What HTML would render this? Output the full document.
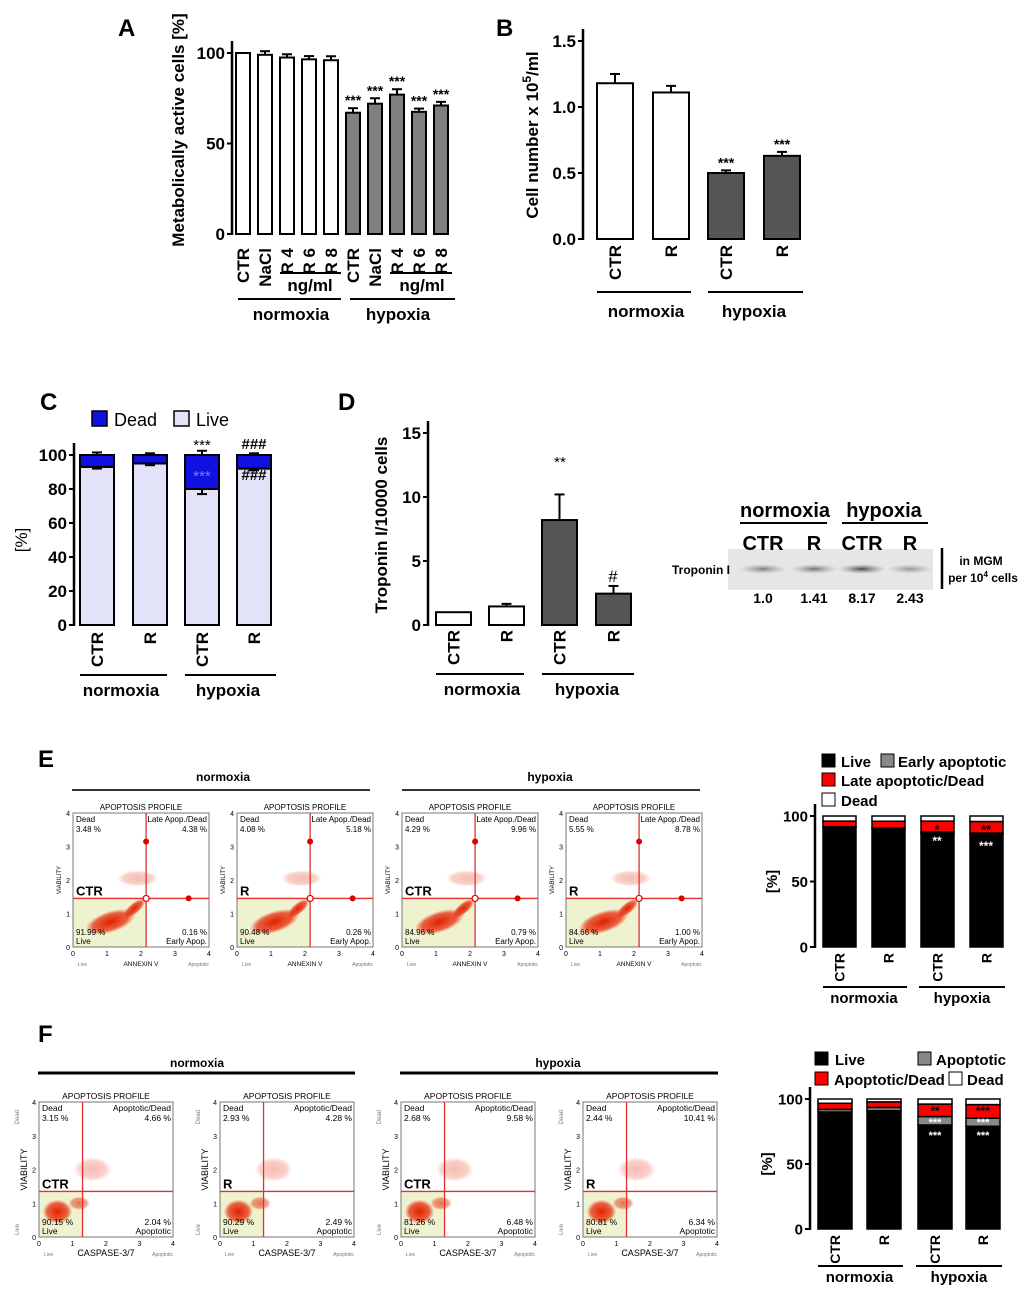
<!DOCTYPE html>
<html><head><meta charset="utf-8">
<style>
html,body{margin:0;padding:0;background:#fff;}
svg{display:block;font-family:"Liberation Sans",Arial,sans-serif;}
</style></head>
<body>
<svg id="fig" width="1020" height="1292" viewBox="0 0 1020 1292" xmlns="http://www.w3.org/2000/svg">
<defs>
<radialGradient id="blob" cx="50%" cy="50%" r="50%">
<stop offset="0%" stop-color="#e02000" stop-opacity="1"/>
<stop offset="70%" stop-color="#e83010" stop-opacity="0.75"/>
<stop offset="100%" stop-color="#f04020" stop-opacity="0"/>
</radialGradient>
<radialGradient id="band" cx="50%" cy="50%" r="50%">
<stop offset="0%" stop-color="#333" stop-opacity="1"/>
<stop offset="100%" stop-color="#888" stop-opacity="0"/>
</radialGradient>
</defs>
</svg>
<script>
// ---------- data ----------
const aCategories = ['CTR','NaCl','R 4','R 6','R 8','CTR','NaCl','R 4','R 6','R 8'];
const aValues = [100, 99, 97.5, 96.5, 96, 67, 72, 77, 67.5, 71];
const aErrors = [0, 2, 1.8, 1.8, 2.2, 2.5, 3, 3, 1.8, 2];
const aTicks = [0, 50, 100];

const bCategories = ['CTR','R','CTR','R'];
const bValues = [1.18, 1.11, 0.50, 0.63];
const bErrors = [0.07, 0.05, 0.02, 0.03];
const bTicks = [0.0, 0.5, 1.0, 1.5];

const cCategories = ['CTR','R','CTR','R'];
const cLive = [93, 95, 80, 92];
const cDead = [7, 5, 20, 8];
const cLiveErr = [1, 1, 3, 1];
const cDeadErr = [1.5, 1, 2.5, 1];
const cTicks = [0, 20, 40, 60, 80, 100];

const dCategories = ['CTR','R','CTR','R'];
const dValues = [1.0, 1.45, 8.2, 2.45];
const dErrors = [0, 0.2, 2.0, 0.6];
const dTicks = [0, 5, 10, 15];

const blotValues = ['1.0','1.41','8.17','2.43'];
const blotIntensity = [0.6, 0.65, 0.9, 0.45];

const eCategories = ['CTR','R','CTR','R'];
const eLive = [91.5, 90.5, 87, 86];
const eEarly = [0.2, 0.3, 0.8, 1.0];
const eLate = [4.4, 5.2, 8.3, 8.8];
const eDead = [3.9, 4.0, 3.9, 4.2];
const eTicks = [0, 50, 100];
const ePlotDead = ['3.48 %','4.08 %','4.29 %','5.55 %'];
const ePlotLate = ['4.38 %','5.18 %','9.96 %','8.78 %'];
const ePlotLive = ['91.99 %','90.48 %','84.96 %','84.66 %'];
const ePlotEarly = ['0.16 %','0.26 %','0.79 %','1.00 %'];

const fCategories = ['CTR','R','CTR','R'];
const fLive = [90, 91, 80, 79];
const fApo = [2.0, 2.5, 6.5, 6.3];
const fApoDead = [4.7, 4.3, 9.6, 10.4];
const fDead = [3.3, 2.2, 3.9, 4.3];
const fTicks = [0, 50, 100];
const fPlotDead = ['3.15 %','2.93 %','2.68 %','2.44 %'];
const fPlotApoDead = ['4.66 %','4.28 %','9.58 %','10.41 %'];
const fPlotLive = ['90.15 %','90.29 %','81.26 %','80.81 %'];
const fPlotApo = ['2.04 %','2.49 %','6.48 %','6.34 %'];

// ---------- helpers ----------
const NS = 'http://www.w3.org/2000/svg';
const svg = document.getElementById('fig');
function mk(tag, attrs, name, parent) {
  const el = document.createElementNS(NS, tag);
  for (const k in attrs) el.setAttribute(k, attrs[k]);
  
  
  (parent || svg).appendChild(el);
  return el;
}
function txt(x, y, s, size, name, opts) {
  opts = opts || {};
  const a = {x: x, y: y, 'font-size': size, 'font-weight': opts.weight || 'bold',
    'text-anchor': opts.anchor || 'start', fill: opts.fill || '#000'};
  if (opts.rot) a.transform = 'rotate(' + opts.rot + ' ' + x + ' ' + y + ')';
  const t = mk('text', a, name, opts.parent);
  t.textContent = s;
  return t;
}
function line(x1, y1, x2, y2, w, name, color) {
  return mk('line', {x1: x1, y1: y1, x2: x2, y2: y2, stroke: color || '#000', 'stroke-width': w}, name);
}
function rect(x, y, w, h, fill, name, sw) {
  return mk('rect', {x: x, y: y, width: w, height: h, fill: fill, stroke: '#000', 'stroke-width': sw === undefined ? 2 : sw}, name);
}
function scale(v, min, max, yb, yt) { return yb - (v - min) / (max - min) * (yb - yt); }
function yAxis(ax, yb, yt, min, max, ticks, fmt, fs, name) {
  line(ax, yt - 12, ax, yb + 1, 2.5, name + '-line');
  ticks.forEach(t => {
    const y = scale(t, min, max, yb, yt);
    line(ax - 5, y, ax, y, 2, name + '-tick');
    txt(ax - 7, y + fs * 0.36, fmt(t), fs, name + '-tick-label', {anchor: 'end'});
  });
}
function errBar(cx, yTop, yErr, name) {
  line(cx, yTop, cx, yErr, 2, name);
  line(cx - 5, yErr, cx + 5, yErr, 2, name + '-cap');
}

// ---------- Panel A ----------
txt(118, 36, 'A', 24, 'panel-label-a');
(function () {
  const ax = 232, yb = 234, yt = 53, min = 0, max = 100;
  const x0 = 236, pitch = 22, bw = 14;
  yAxis(ax, yb, yt, min, max, aTicks, t => String(t), 17, 'a-y-axis');
  txt(184, 130, 'Metabolically active cells [%]', 17, 'a-y-axis-title', {anchor: 'middle', rot: -90});
  aValues.forEach((v, i) => {
    const x = x0 + i * pitch, y = scale(v, min, max, yb, yt);
    const fill = i < 5 ? '#fff' : '#808080';
    if (aErrors[i] > 0) errBar(x + bw / 2, y, scale(v + aErrors[i], min, max, yb, yt), 'a-error-bar');
    rect(x, y, bw, yb - y, fill, 'a-bar-' + i);
    if (i >= 5) txt(x + bw / 2, scale(v + aErrors[i], min, max, yb, yt) - 3, '***', 14, 'a-significance', {anchor: 'middle'});
    txt(x + bw / 2 + 6, 248, aCategories[i], 17, 'a-category-label', {anchor: 'end', rot: -90});
  });
  line(280, 273, 341, 273, 2, 'a-ngml-line-normoxia');
  line(390, 273, 452, 273, 2, 'a-ngml-line-hypoxia');
  txt(310, 291, 'ng/ml', 17, 'a-ngml-label', {anchor: 'middle'});
  txt(422, 291, 'ng/ml', 17, 'a-ngml-label', {anchor: 'middle'});
  line(238, 299, 341, 299, 2, 'a-normoxia-line');
  line(350, 299, 455, 299, 2, 'a-hypoxia-line');
  txt(291, 320, 'normoxia', 17, 'a-normoxia-label', {anchor: 'middle'});
  txt(398, 320, 'hypoxia', 17, 'a-hypoxia-label', {anchor: 'middle'});
})();

// ---------- Panel B ----------
txt(496, 36, 'B', 24, 'panel-label-b');
(function () {
  const ax = 583, yb = 239, yt = 41, min = 0, max = 1.5;
  const xs = [597, 653, 708, 764], bw = 36;
  yAxis(ax, yb, yt, min, max, bTicks, t => t.toFixed(1), 17, 'b-y-axis');
  const tt = txt(538, 135, 'Cell number x 10', 17, 'b-y-axis-title', {anchor: 'middle', rot: -90});
  const sup = document.createElementNS(NS, 'tspan');
  sup.setAttribute('dy', '-7'); sup.setAttribute('font-size', '12'); sup.textContent = '5';
  tt.appendChild(sup);
  const rest = document.createElementNS(NS, 'tspan');
  rest.setAttribute('dy', '7'); rest.textContent = '/ml';
  tt.appendChild(rest);
  bValues.forEach((v, i) => {
    const x = xs[i], y = scale(v, min, max, yb, yt);
    const ey = scale(v + bErrors[i], min, max, yb, yt);
    errBar(x + bw / 2, y, ey, 'b-error-bar');
    rect(x, y, bw, yb - y, i < 2 ? '#fff' : '#555', 'b-bar-' + i);
    if (i >= 2) txt(x + bw / 2, ey - 3, '***', 14, 'b-significance', {anchor: 'middle'});
    txt(x + bw / 2 + 6, 245, bCategories[i], 17, 'b-category-label', {anchor: 'end', rot: -90});
  });
  line(597, 292, 691, 292, 2, 'b-normoxia-line');
  line(708, 292, 803, 292, 2, 'b-hypoxia-line');
  txt(646, 317, 'normoxia', 17, 'b-normoxia-label', {anchor: 'middle'});
  txt(754, 317, 'hypoxia', 17, 'b-hypoxia-label', {anchor: 'middle'});
})();

// ---------- Panel C ----------
txt(40, 410, 'C', 24, 'panel-label-c');
(function () {
  const ax = 74, yb = 625, yt = 455, min = 0, max = 100;
  const xs = [80, 133, 185, 237], bw = 34;
  rect(92, 411, 15, 15, '#1010e0', 'c-legend-dead-swatch', 1.5);
  txt(114, 426, 'Dead', 18, 'c-legend-dead-label', {weight: 'normal'});
  rect(174, 411, 15, 15, '#e2e2f8', 'c-legend-live-swatch', 1.5);
  txt(196, 426, 'Live', 18, 'c-legend-live-label', {weight: 'normal'});
  yAxis(ax, yb, yt, min, max, cTicks, t => String(t), 17, 'c-y-axis');
  txt(27, 540, '[%]', 17, 'c-y-axis-title', {anchor: 'middle', rot: -90, weight: 'normal'});
  cLive.forEach((v, i) => {
    const x = xs[i];
    const yl = scale(v, min, max, yb, yt);
    const total = v + cDead[i];
    const yd = scale(total, min, max, yb, yt);
    errBar(x + bw / 2, yd, scale(total + cDeadErr[i], min, max, yb, yt), 'c-error-bar-dead');
    rect(x, yl, bw, yb - yl, '#e2e2f8', 'c-bar-live-' + i);
    rect(x, yd, bw, yl - yd, '#1010e0', 'c-bar-dead-' + i);
    errBar(x + bw / 2, yl, scale(v - cLiveErr[i], min, max, yb, yt), 'c-error-bar-live');
    txt(x + bw / 2 + 6, 632, cCategories[i], 17, 'c-category-label', {anchor: 'end', rot: -90});
  });
  txt(202, 450, '***', 15, 'c-significance', {anchor: 'middle', weight: 'normal'});
  txt(202, 481, '***', 15, 'c-significance-inner', {anchor: 'middle', weight: 'normal', fill: '#7080ff'});
  txt(254, 449, '###', 15, 'c-significance-hash', {anchor: 'middle'});
  txt(254, 480, '###', 15, 'c-significance-hash-inner', {anchor: 'middle'});
  line(80, 675, 167, 675, 2, 'c-normoxia-line');
  line(185, 675, 276, 675, 2, 'c-hypoxia-line');
  txt(121, 696, 'normoxia', 17, 'c-normoxia-label', {anchor: 'middle'});
  txt(228, 696, 'hypoxia', 17, 'c-hypoxia-label', {anchor: 'middle'});
})();

// ---------- Panel D ----------
txt(338, 410, 'D', 24, 'panel-label-d');
(function () {
  const ax = 428, yb = 625, yt = 433, min = 0, max = 15;
  const xs = [436, 489, 542, 596], bw = 35;
  yAxis(ax, yb, yt, min, max, dTicks, t => String(t), 17, 'd-y-axis');
  txt(387, 525, 'Troponin I/10000 cells', 17, 'd-y-axis-title', {anchor: 'middle', rot: -90});
  dValues.forEach((v, i) => {
    const x = xs[i], y = scale(v, min, max, yb, yt);
    const ey = scale(v + dErrors[i], min, max, yb, yt);
    if (dErrors[i] > 0) errBar(x + bw / 2, y, ey, 'd-error-bar');
    rect(x, y, bw, yb - y, i < 2 ? '#fff' : '#555', 'd-bar-' + i);
    txt(x + bw / 2 + 6, 630, dCategories[i], 17, 'd-category-label', {anchor: 'end', rot: -90});
  });
  txt(560, 467, '**', 15, 'd-significance', {anchor: 'middle', weight: 'normal'});
  txt(613, 582, '#', 17, 'd-significance-hash', {anchor: 'middle', weight: 'normal'});
  line(436, 674, 524, 674, 2, 'd-normoxia-line');
  line(542, 674, 634, 674, 2, 'd-hypoxia-line');
  txt(482, 695, 'normoxia', 17, 'd-normoxia-label', {anchor: 'middle'});
  txt(587, 695, 'hypoxia', 17, 'd-hypoxia-label', {anchor: 'middle'});
})();

// ---------- Western blot ----------
(function () {
  txt(785, 517, 'normoxia', 20, 'blot-normoxia-label', {anchor: 'middle'});
  txt(884, 517, 'hypoxia', 20, 'blot-hypoxia-label', {anchor: 'middle'});
  line(740, 523, 827, 523, 2, 'blot-normoxia-line');
  line(842, 523, 928, 523, 2, 'blot-hypoxia-line');
  const cx = [763, 814, 862, 910], lab = ['CTR', 'R', 'CTR', 'R'];
  mk('rect', {x: 728, y: 549, width: 205, height: 41, fill: '#e6e6e6'}, 'blot-membrane');
  blotIntensity.forEach((k, i) => {
    mk('ellipse', {cx: cx[i], cy: 569, rx: 24, ry: 5, fill: 'url(#band)', opacity: k}, 'blot-band');
  });
  lab.forEach((l, i) => txt(cx[i], 550, l, 20, 'blot-lane-label', {anchor: 'middle'}));
  txt(672, 574, 'Troponin I', 12, 'blot-protein-label');
  line(942, 548, 942, 589, 2.5, 'blot-bracket');
  txt(981, 565, 'in MGM', 12, 'blot-unit-label', {anchor: 'middle'});
  const u = txt(983, 582, 'per 10', 12, 'blot-unit-label-2', {anchor: 'middle'});
  const s = document.createElementNS(NS, 'tspan'); s.setAttribute('dy', '-5'); s.setAttribute('font-size', '8'); s.textContent = '4';
  u.appendChild(s);
  const r = document.createElementNS(NS, 'tspan'); r.setAttribute('dy', '5'); r.textContent = ' cells';
  u.appendChild(r);
  blotValues.forEach((v, i) => txt(cx[i], 603, v, 14, 'blot-value', {anchor: 'middle'}));
})();

// ---------- Flow plots ----------
function flowPlot(x, y, w, h, qx, qy, cond, tl, tr, bl, br, labels, prefix, variant) {
  mk('rect', {x: x, y: y + h * (1 - qy / 4), width: w * qx / 4, height: h * qy / 4, fill: '#eef2cf'}, prefix + '-live-region');
  const px = v => x + v / 4 * w, py = v => y + h - v / 4 * h;
  if (variant === 'annexin') {
    mk('ellipse', {cx: px(1.1), cy: py(0.75), rx: w * 0.19, ry: h * 0.08, fill: 'url(#blob)', transform: 'rotate(-18 ' + px(1.1) + ' ' + py(0.75) + ')'}, prefix + '-cell-cloud');
    mk('ellipse', {cx: px(1.8), cy: py(1.15), rx: w * 0.1, ry: h * 0.04, fill: 'url(#blob)', transform: 'rotate(-40 ' + px(1.8) + ' ' + py(1.15) + ')'}, prefix + '-cell-cloud');
    mk('ellipse', {cx: px(1.9), cy: py(2.05), rx: w * 0.15, ry: h * 0.06, fill: 'url(#blob)', opacity: 0.3}, prefix + '-cell-cloud-sparse');
  } else {
    mk('ellipse', {cx: px(0.55), cy: py(0.75), rx: w * 0.11, ry: h * 0.09, fill: 'url(#blob)'}, prefix + '-cell-cloud');
    mk('ellipse', {cx: px(1.2), cy: py(1.0), rx: w * 0.08, ry: h * 0.05, fill: 'url(#blob)', opacity: 0.6}, prefix + '-cell-cloud');
    mk('ellipse', {cx: px(1.6), cy: py(2.0), rx: w * 0.14, ry: h * 0.09, fill: 'url(#blob)', opacity: 0.3}, prefix + '-cell-cloud-sparse');
  }
  mk('rect', {x: x, y: y, width: w, height: h, fill: 'none', stroke: '#777', 'stroke-width': 1}, prefix + '-frame');
  line(px(qx), y, px(qx), y + h, 1.3, prefix + '-quadrant-vertical', '#e03030');
  line(x, py(qy), x + w, py(qy), 1.3, prefix + '-quadrant-horizontal', '#e03030');
  if (variant === 'annexin') {
    mk('circle', {cx: px(qx), cy: py(3.15), r: 3, fill: '#e00000'}, prefix + '-gate-handle');
    mk('circle', {cx: px(3.4), cy: py(qy), r: 3, fill: '#e00000'}, prefix + '-gate-handle');
    mk('circle', {cx: px(qx), cy: py(qy), r: 3, fill: '#fff', stroke: '#e00000', 'stroke-width': 1.2}, prefix + '-gate-center');
  }
  const fs = variant === 'annexin' ? 8 : 8.5;
  txt(x + w / 2, y - 3, 'APOPTOSIS PROFILE', fs, prefix + '-title', {anchor: 'middle', weight: 'normal'});
  txt(x + 3, y + 9, labels[0], fs, prefix + '-q-label', {weight: 'normal'});
  txt(x + 3, y + 19, tl, fs, prefix + '-q-value', {weight: 'normal'});
  txt(x + w - 2, y + 9, labels[1], fs, prefix + '-q-label', {weight: 'normal', anchor: 'end'});
  txt(x + w - 2, y + 19, tr, fs, prefix + '-q-value', {weight: 'normal', anchor: 'end'});
  txt(x + 3, y + h - 12, bl, fs, prefix + '-q-value', {weight: 'normal'});
  txt(x + 3, y + h - 3, labels[2], fs, prefix + '-q-label', {weight: 'normal'});
  txt(x + w - 2, y + h - 12, br, fs, prefix + '-q-value', {weight: 'normal', anchor: 'end'});
  txt(x + w - 2, y + h - 3, labels[3], fs, prefix + '-q-label', {weight: 'normal', anchor: 'end'});
  txt(x + 3, py(qy) - 3, cond, 13, prefix + '-condition-label');
  [0, 1, 2, 3, 4].forEach(t => {
    txt(px(t), y + h + 9, String(t), 7, prefix + '-x-tick', {anchor: 'middle', weight: 'normal'});
    txt(x - 3, py(t) + 3, String(t), 7, prefix + '-y-tick', {anchor: 'end', weight: 'normal'});
  });
  txt(x + w / 2, y + h + 19, variant === 'annexin' ? 'ANNEXIN V' : 'CASPASE-3/7', variant === 'annexin' ? 6.5 : 9, prefix + '-x-title', {anchor: 'middle', weight: 'normal'});
  txt(x + 5, y + h + 19, 'Live', 5, prefix + '-x-left', {weight: 'normal', fill: '#777'});
  txt(x + w, y + h + 19, 'Apoptotic', 5, prefix + '-x-right', {anchor: 'end', weight: 'normal', fill: '#777'});
  txt(x - 12, y + h / 2, 'VIABILITY', variant === 'annexin' ? 6 : 9, prefix + '-y-title', {anchor: 'middle', weight: 'normal', rot: -90});
  if (variant !== 'annexin') {
    txt(x - 20, y + 8, 'Dead', 6, prefix + '-y-top', {anchor: 'end', weight: 'normal', rot: -90, fill: '#777'});
    txt(x - 20, y + h - 2, 'Live', 6, prefix + '-y-bottom', {anchor: 'start', weight: 'normal', rot: -90, fill: '#777'});
  }
}

// ---------- Panel E ----------
txt(38, 767, 'E', 24, 'panel-label-e');
txt(223, 781, 'normoxia', 12, 'e-normoxia-label', {anchor: 'middle'});
txt(550, 781, 'hypoxia', 12, 'e-hypoxia-label', {anchor: 'middle'});
line(72, 790, 370, 790, 2, 'e-normoxia-line', '#333');
line(402, 790, 700, 790, 2, 'e-hypoxia-line', '#333');
[73, 237, 402, 566].forEach((x, i) => {
  flowPlot(x, 813, 136, 134, 2.15, 1.45, eCategories[i], ePlotDead[i], ePlotLate[i], ePlotLive[i], ePlotEarly[i],
    ['Dead', 'Late Apop./Dead', 'Live', 'Early Apop.'], 'e-flow-plot-' + i, 'annexin');
});

// ---------- Panel F ----------
txt(38, 1042, 'F', 24, 'panel-label-f');
txt(197, 1067, 'normoxia', 12, 'f-normoxia-label', {anchor: 'middle'});
txt(558, 1067, 'hypoxia', 12, 'f-hypoxia-label', {anchor: 'middle'});
line(38, 1073, 355, 1073, 3, 'f-normoxia-line');
line(400, 1073, 718, 1073, 3, 'f-hypoxia-line');
[39, 220, 401, 583].forEach((x, i) => {
  flowPlot(x, 1102, 134, 135, 1.3, 1.35, fCategories[i], fPlotDead[i], fPlotApoDead[i], fPlotLive[i], fPlotApo[i],
    ['Dead', 'Apoptotic/Dead', 'Live', 'Apoptotic'], 'f-flow-plot-' + i, 'caspase');
});

// ---------- Stacked bar charts (E, F) ----------
function stacked(prefix, ax, yb, yt, xs, bw, series, colors, ticks, cats, groupY) {
  const min = 0, max = 100;
  yAxis(ax, yb, yt, min, max, ticks, t => String(t), 15, prefix + '-y-axis');
  txt(ax - 38, (yb + yt) / 2, '[%]', 15, prefix + '-y-axis-title', {anchor: 'middle', rot: -90});
  xs.forEach((x, i) => {
    let cum = 0;
    series.forEach((s, k) => {
      const y0 = scale(cum, min, max, yb, yt);
      cum += s[i];
      const y1 = scale(cum, min, max, yb, yt);
      rect(x, y1, bw, y0 - y1, colors[k], prefix + '-bar-' + i + '-segment-' + k, 1.5);
    });
    txt(x + bw / 2 + 5, yb + 6, cats[i], 14, prefix + '-category-label', {anchor: 'end', rot: -90});
  });
  line(xs[0], groupY, xs[1] + bw + 2, groupY, 2, prefix + '-normoxia-line');
  line(xs[2] - 2, groupY, xs[3] + bw + 2, groupY, 2, prefix + '-hypoxia-line');
  txt((xs[0] + xs[1] + bw) / 2, groupY + 16, 'normoxia', 15, prefix + '-normoxia-label', {anchor: 'middle'});
  txt((xs[2] + xs[3] + bw) / 2, groupY + 16, 'hypoxia', 15, prefix + '-hypoxia-label', {anchor: 'middle'});
}
// E legend
rect(822, 754, 13, 13, '#000', 'e-legend-live-swatch', 1);
txt(841, 767, 'Live', 15, 'e-legend-live-label');
rect(881, 754, 13, 13, '#888', 'e-legend-early-swatch', 1);
txt(898, 767, 'Early apoptotic', 15, 'e-legend-early-label');
rect(822, 773, 13, 13, '#f00', 'e-legend-late-swatch', 1);
txt(841, 786, 'Late apoptotic/Dead', 15, 'e-legend-late-label');
rect(822, 793, 13, 13, '#fff', 'e-legend-dead-swatch', 1);
txt(841, 806, 'Dead', 15, 'e-legend-dead-label');
stacked('e-stacked', 815, 947, 816, [823, 872, 921, 970], 33, [eLive, eEarly, eLate, eDead], ['#000', '#888', '#f00', '#fff'], eTicks, eCategories, 987);
txt(937, 834, '*', 13, 'e-significance-late', {anchor: 'middle'});
txt(937, 845, '**', 12, 'e-significance-live', {anchor: 'middle', fill: '#fff'});
txt(986, 834, '**', 13, 'e-significance-late', {anchor: 'middle'});
txt(986, 850, '***', 12, 'e-significance-live', {anchor: 'middle', fill: '#fff'});

// F legend
rect(815, 1052, 13, 13, '#000', 'f-legend-live-swatch', 1);
txt(835, 1065, 'Live', 15, 'f-legend-live-label');
rect(918, 1052, 13, 13, '#888', 'f-legend-apo-swatch', 1);
txt(936, 1065, 'Apoptotic', 15, 'f-legend-apo-label');
rect(815, 1072, 13, 13, '#f00', 'f-legend-apodead-swatch', 1);
txt(834, 1085, 'Apoptotic/Dead', 15, 'f-legend-apodead-label');
rect(949, 1072, 13, 13, '#fff', 'f-legend-dead-swatch', 1);
txt(967, 1085, 'Dead', 15, 'f-legend-dead-label');
stacked('f-stacked', 810, 1229, 1099, [818, 867, 918, 966], 34, [fLive, fApo, fApoDead, fDead], ['#000', '#888', '#f00', '#fff'], fTicks, fCategories, 1266);
txt(935, 1115, '**', 12, 'f-significance-apodead', {anchor: 'middle'});
txt(935, 1126, '***', 11, 'f-significance-apo', {anchor: 'middle', fill: '#fff'});
txt(935, 1139, '***', 11, 'f-significance-live', {anchor: 'middle', fill: '#fff'});
txt(983, 1115, '***', 12, 'f-significance-apodead', {anchor: 'middle'});
txt(983, 1126, '***', 11, 'f-significance-apo', {anchor: 'middle', fill: '#fff'});
txt(983, 1139, '***', 11, 'f-significance-live', {anchor: 'middle', fill: '#fff'});
</script>
</body></html>
